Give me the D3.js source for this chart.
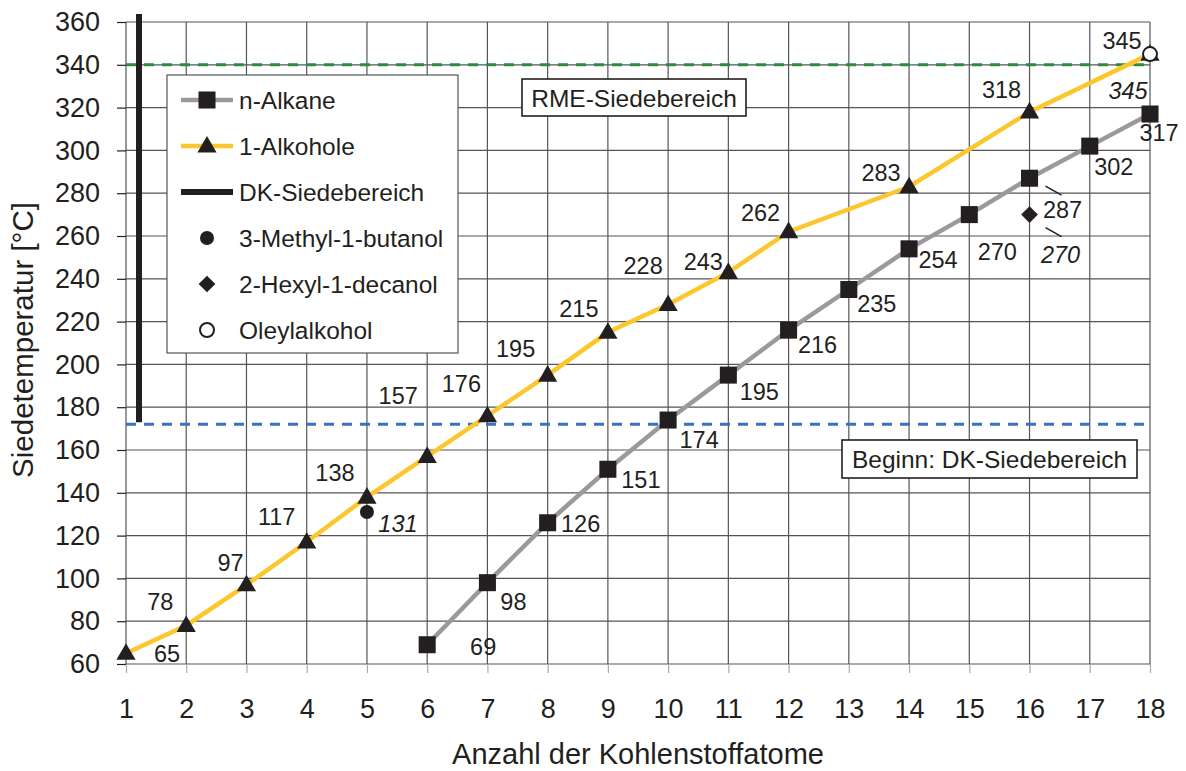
<!DOCTYPE html>
<html>
<head>
<meta charset="utf-8">
<script src="https://cdn.jsdelivr.net/npm/d3@7"></script>
<style>
  html, body { margin: 0; padding: 0; background: #fff; }
  svg { display: block; font-family: "Liberation Sans", Arial, Helvetica, sans-serif; }
</style>
</head>
<body>
<svg id="chart" width="1186" height="771"></svg>
<script>
// Carbon numbers and boiling points [°C]
const alkaneC = [6, 7, 8, 9, 10, 11, 12, 13, 14, 15, 16, 17, 18];
const alkaneT = [69, 98, 126, 151, 174, 195, 216, 235, 254, 270, 287, 302, 317];

const alcoholC = [1, 2, 3, 4, 5, 6, 7, 8, 9, 10, 11, 12, 14, 16, 18];
const alcoholT = [65, 78, 97, 117, 138, 157, 176, 195, 215, 228, 243, 262, 283, 318, 345];

// Single compounds
const methylbutanol = { c: 5, t: 131 };
const hexyldecanol = { c: 16, t: 270 };
const oleyl = { c: 18, t: 345 };

// Reference ranges
const dkStart = 172;
const rmeStart = 340;

const xTicks = d3.range(1, 19);
const yTicks = d3.range(60, 361, 20);

// Label placement relative to each point (pixels)
const alcoholLabelOffset = [[41, 1], [-26, -23], [-16, -22], [-30, -25], [-32, -24], [-29, -60], [-26, -32], [-32, -26], [-29, -23], [-25, -38], [-25, -10], [-28, -19], [-28, -14], [-28, -22], [-28, -13]];
const alkaneLabelOffset = [[56, 2], [26, 19], [33, 1], [33, 11], [31, 20], [31, 17], [29, 15], [28, 14], [29, 11], [28, 37], [33, 32], [24, 21], [9, 19]];

const svg = d3.select("#chart");
const x = d3.scaleLinear().domain([1, 18]).range([126, 1150]);
const y = d3.scaleLinear().domain([60, 360]).range([664, 22]);

const ink = "#231f20";
const gridColor = "#555";
const labelSize = 23.5;
const boxSize = 24.5;

// Grid
svg.append("g").selectAll("line.v").data(xTicks).join("line")
  .attr("x1", d => x(d)).attr("x2", d => x(d))
  .attr("y1", y(360)).attr("y2", y(60))
  .attr("stroke", gridColor).attr("stroke-width", 1.2);
svg.append("g").selectAll("line.h").data(yTicks).join("line")
  .attr("x1", x(1)).attr("x2", x(18))
  .attr("y1", d => y(d)).attr("y2", d => y(d))
  .attr("stroke", gridColor).attr("stroke-width", 1.2);

// Axes
const yAxis = d3.axisLeft(y).tickValues(yTicks).tickSize(9).tickPadding(17).tickFormat(d3.format("d"));
const gy = svg.append("g").attr("transform", `translate(${x(1)},0)`).call(yAxis);
gy.select(".domain").remove();
gy.selectAll(".tick line").attr("stroke", ink).attr("stroke-width", 1.2);
gy.selectAll(".tick text").attr("font-size", 27).attr("fill", ink)
  .attr("font-family", "Liberation Sans, Arial, sans-serif");

const xAxis = d3.axisBottom(x).tickValues(xTicks).tickSize(9).tickPadding(26).tickFormat(d3.format("d"));
const gx = svg.append("g").attr("transform", `translate(0,${y(60)})`).call(xAxis);
gx.select(".domain").remove();
gx.selectAll(".tick line").attr("stroke", "#aaa").attr("stroke-width", 1.2);
gx.selectAll(".tick text").attr("font-size", 27).attr("fill", ink)
  .attr("font-family", "Liberation Sans, Arial, sans-serif");

// Axis titles
svg.append("text").attr("x", 638).attr("y", 764).attr("text-anchor", "middle")
  .attr("font-size", 29).attr("fill", ink).text("Anzahl der Kohlenstoffatome");
svg.append("text").attr("transform", "translate(33,340) rotate(-90)").attr("text-anchor", "middle")
  .attr("font-size", 29.5).attr("fill", ink).text("Siedetemperatur [°C]");

// Reference lines
svg.append("line").attr("x1", x(1)).attr("x2", x(18)).attr("y1", y(rmeStart)).attr("y2", y(rmeStart))
  .attr("stroke", "#2e8b3e").attr("stroke-width", 3).attr("stroke-dasharray", "10,8");
svg.append("line").attr("x1", x(1)).attr("x2", x(18)).attr("y1", y(dkStart)).attr("y2", y(dkStart))
  .attr("stroke", "#3a70c2").attr("stroke-width", 3).attr("stroke-dasharray", "10,8");

// DK boiling range bar
svg.append("line").attr("x1", 139).attr("x2", 139).attr("y1", 14).attr("y2", y(dkStart) - 2)
  .attr("stroke", ink).attr("stroke-width", 6);

// Range boxes
function boxLabel(x0, y0, w, h, txt) {
  svg.append("rect").attr("x", x0).attr("y", y0).attr("width", w).attr("height", h)
    .attr("fill", "#fff").attr("stroke", ink).attr("stroke-width", 1.6);
  svg.append("text").attr("x", x0 + w / 2).attr("y", y0 + h / 2 + 9).attr("text-anchor", "middle")
    .attr("font-size", boxSize).attr("fill", ink).text(txt);
}
boxLabel(522, 79, 224, 37, "RME-Siedebereich");
boxLabel(842, 440, 295, 38, "Beginn: DK-Siedebereich");

// Series lines
const line = d3.line().x(d => x(d[0])).y(d => y(d[1]));
const alkanePts = alkaneC.map((c, i) => [c, alkaneT[i]]);
const alcoholPts = alcoholC.map((c, i) => [c, alcoholT[i]]);

svg.append("path").datum(alkanePts).attr("d", line).attr("fill", "none")
  .attr("stroke", "#9a9a9a").attr("stroke-width", 4.5);
svg.append("path").datum(alcoholPts).attr("d", line).attr("fill", "none")
  .attr("stroke", "#fcc72e").attr("stroke-width", 4.5);

const sq = d3.symbol().type(d3.symbolSquare).size(290);
const tri = d3.symbol().type(d3.symbolTriangle).size(160);
const dia = d3.symbol().type(d3.symbolSquare).size(140);

svg.append("g").selectAll("path").data(alkanePts).join("path")
  .attr("d", sq).attr("transform", d => `translate(${x(d[0])},${y(d[1])})`).attr("fill", ink);
svg.append("g").selectAll("path").data(alcoholPts).join("path")
  .attr("d", tri).attr("transform", d => `translate(${x(d[0])},${y(d[1]) + 1})`).attr("fill", ink);

// Single compounds
svg.append("circle").attr("cx", x(methylbutanol.c)).attr("cy", y(methylbutanol.t)).attr("r", 7).attr("fill", ink);
svg.append("path").attr("d", dia).attr("transform", `translate(${x(hexyldecanol.c)},${y(hexyldecanol.t)}) rotate(45)`).attr("fill", ink);
svg.append("circle").attr("cx", x(oleyl.c)).attr("cy", y(oleyl.t)).attr("r", 7)
  .attr("fill", "#fff").attr("stroke", ink).attr("stroke-width", 2);

// Value labels
const lbl = svg.append("g").attr("font-size", labelSize).attr("fill", ink).attr("text-anchor", "middle");
alcoholPts.forEach((d, i) => {
  lbl.append("text").attr("x", x(d[0]) + alcoholLabelOffset[i][0]).attr("y", y(d[1]) + alcoholLabelOffset[i][1] + 8).text(d[1]);
});
alkanePts.forEach((d, i) => {
  lbl.append("text").attr("x", x(d[0]) + alkaneLabelOffset[i][0]).attr("y", y(d[1]) + alkaneLabelOffset[i][1] + 8).text(d[1]);
});
const ital = svg.append("g").attr("font-size", labelSize).attr("fill", ink).attr("text-anchor", "middle").attr("font-style", "italic");
ital.append("text").attr("x", x(methylbutanol.c) + 31).attr("y", y(methylbutanol.t) + 12 + 8).text(methylbutanol.t);
ital.append("text").attr("x", x(hexyldecanol.c) + 31).attr("y", y(hexyldecanol.t) + 40 + 8).text(hexyldecanol.t);
ital.append("text").attr("x", x(oleyl.c) - 22).attr("y", y(oleyl.t) + 37 + 8).text(oleyl.t);

// Leader lines
svg.append("line").attr("x1", x(16) + 16).attr("y1", y(287) + 8).attr("x2", x(16) + 32).attr("y2", y(287) + 17)
  .attr("stroke", ink).attr("stroke-width", 1.5);
svg.append("line").attr("x1", x(16) + 16).attr("y1", y(270) + 13).attr("x2", x(16) + 32).attr("y2", y(270) + 22)
  .attr("stroke", ink).attr("stroke-width", 1.5);

// Legend
const lg = svg.append("g");
lg.append("rect").attr("x", 167).attr("y", 75).attr("width", 291).attr("height", 278)
  .attr("fill", "#fff").attr("stroke", "#555").attr("stroke-width", 1.2);
const legendItems = [
  { label: "n-Alkane", line: "#9a9a9a", sym: "square", w: 4.5 },
  { label: "1-Alkohole", line: "#fcc72e", sym: "triangle", w: 4.5 },
  { label: "DK-Siedebereich", line: ink, sym: null, w: 6 },
  { label: "3-Methyl-1-butanol", line: null, sym: "dot" },
  { label: "2-Hexyl-1-decanol", line: null, sym: "diamond" },
  { label: "Oleylalkohol", line: null, sym: "ring" }
];
legendItems.forEach((it, i) => {
  const cy = 100 + i * 46;
  if (it.line) lg.append("line").attr("x1", 181).attr("x2", 233).attr("y1", cy).attr("y2", cy)
    .attr("stroke", it.line).attr("stroke-width", it.w);
  if (it.sym === "dot") lg.append("circle").attr("cx", 207).attr("cy", cy).attr("r", 7).attr("fill", ink);
  else if (it.sym === "ring") lg.append("circle").attr("cx", 207).attr("cy", cy).attr("r", 7)
    .attr("fill", "#fff").attr("stroke", ink).attr("stroke-width", 2);
  else if (it.sym === "square") lg.append("path").attr("d", sq).attr("transform", `translate(207,${cy})`).attr("fill", ink);
  else if (it.sym === "triangle") lg.append("path").attr("d", tri).attr("transform", `translate(207,${cy + 1})`).attr("fill", ink);
  else if (it.sym === "diamond") lg.append("path").attr("d", dia).attr("transform", `translate(207,${cy}) rotate(45)`).attr("fill", ink);
  lg.append("text").attr("x", 239).attr("y", cy + 9).attr("font-size", 24.5).attr("fill", ink).text(it.label);
});
</script>
</body>
</html>
